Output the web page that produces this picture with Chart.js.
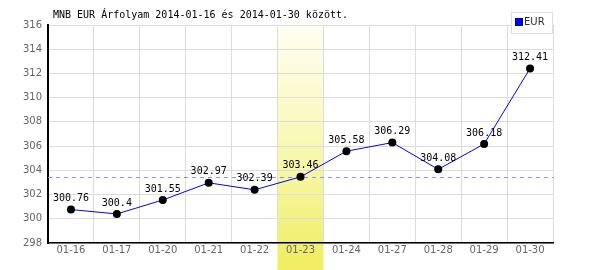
<!DOCTYPE html>
<html><head><meta charset="utf-8">
<script src="https://cdn.jsdelivr.net/npm/chart.js@4/dist/chart.umd.min.js"></script>
<style>html,body{margin:0;padding:0;background:#fff}#wrap{width:600px;height:270px}</style>
</head><body><div id="wrap"><canvas id="c" width="600" height="270"></canvas></div>
<script>
const categories = ["01-16","01-17","01-20","01-21","01-22","01-23","01-24","01-27","01-28","01-29","01-30"];
const eurValues = [300.76,300.4,301.55,302.97,302.39,303.46,305.58,306.29,304.08,306.18,312.41];
const valueLabels = ["300.76","300.4","301.55","302.97","302.39","303.46","305.58","306.29","304.08","306.18","312.41"];
const seriesName = "EUR";
const titleText = "MNB EUR Árfolyam 2014-01-16 és 2014-01-30 között.";
const highlightIndex = 5;
const yMin = 298, yMax = 316, yStep = 2;

const deco = {
  id: 'deco',
  beforeDraw(chart) {
    const ctx = chart.ctx, x = chart.scales.x, a = chart.chartArea;
    const half = (a.right - a.left) / categories.length / 2;
    const cx = x.getPixelForValue(highlightIndex);
    const g = ctx.createLinearGradient(0, a.top, 0, chart.height);
    g.addColorStop(0, '#fffff4');
    g.addColorStop(0.5, '#f8f8b4');
    g.addColorStop(1, '#efed60');
    ctx.save();
    ctx.fillStyle = g;
    ctx.fillRect(cx - half, a.top, half * 2, chart.height - a.top);
    ctx.restore();
  },
  beforeDatasetsDraw(chart) {
    const ctx = chart.ctx, y = chart.scales.y, a = chart.chartArea;
    const py = Math.round(y.getPixelForValue(eurValues[highlightIndex])) + 0.5;
    ctx.save();
    ctx.strokeStyle = '#8c8cf5';
    ctx.lineWidth = 1;
    ctx.setLineDash([4, 4]);
    ctx.beginPath(); ctx.moveTo(a.left, py); ctx.lineTo(a.right, py); ctx.stroke();
    ctx.restore();
  },
  afterDatasetsDraw(chart) {
    const ctx = chart.ctx;
    const meta = chart.getDatasetMeta(0);
    ctx.save();
    ctx.font = '10px "DejaVu Sans Mono"';
    ctx.fillStyle = '#000';
    ctx.textAlign = 'center';
    ctx.textBaseline = 'middle';
    meta.data.forEach((p, i) => { ctx.fillText(valueLabels[i], p.x, p.y - 11); });
    ctx.restore();
  },
  afterDraw(chart) {
    const ctx = chart.ctx;
    ctx.save();
    ctx.font = '10px "DejaVu Sans Mono"';
    ctx.fillStyle = '#000';
    ctx.textBaseline = 'middle';
    ctx.fillText(titleText, 53, 15);
    // legend
    ctx.fillStyle = '#fff';
    ctx.fillRect(511, 12, 41, 21);
    ctx.strokeStyle = '#dddddd';
    ctx.lineWidth = 1;
    ctx.strokeRect(511.5, 12.5, 41, 21);
    ctx.fillStyle = '#0000ff';
    ctx.fillRect(516, 19, 6, 6);
    ctx.strokeStyle = '#000080';
    ctx.strokeRect(515.5, 18.5, 7, 7);
    ctx.fillStyle = '#333';
    ctx.font = '10px "DejaVu Sans"';
    ctx.fillText(seriesName, 524, 22.5);
    ctx.restore();
  }
};

new Chart(document.getElementById('c'), {
  type: 'line',
  data: {
    labels: categories,
    datasets: [{
      label: seriesName,
      data: eurValues,
      borderColor: '#0000ff',
      borderWidth: 1,
      pointRadius: 4,
      pointBackgroundColor: '#000',
      pointBorderColor: '#000',
      pointBorderWidth: 0,
      tension: 0,
      fill: false
    }]
  },
  options: {
    responsive: false,
    animation: false,
    devicePixelRatio: 1,
    layout: { padding: { left: 0, top: 25, right: 47, bottom: 0 } },
    plugins: { legend: { display: false }, title: { display: false }, tooltip: { enabled: false } },
    scales: {
      x: {
        offset: true,
        grid: { offset: true, color: '#dddddd', drawTicks: false },
        border: { color: '#000', width: 1.5 },
        ticks: { color: '#666', font: { family: 'DejaVu Sans', size: 10 }, padding: 1, maxRotation: 0, autoSkip: false },
        afterFit(s) { s.height = 27; }
      },
      y: {
        min: yMin, max: yMax,
        grid: { color: '#dddddd', drawTicks: false },
        border: { color: '#000', width: 2 },
        ticks: { stepSize: yStep, color: '#666', font: { family: 'DejaVu Sans', size: 10 }, padding: 6 },
        afterFit(s) { s.width = 48; }
      }
    }
  },
  plugins: [deco]
});
</script></body></html>
